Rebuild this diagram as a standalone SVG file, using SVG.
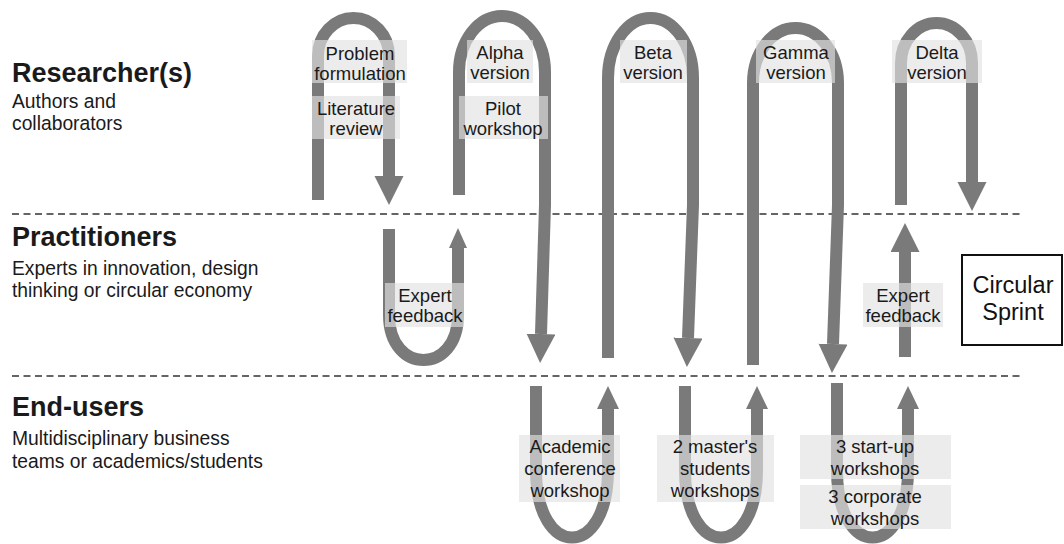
<svg xmlns="http://www.w3.org/2000/svg" width="1064" height="544" viewBox="0 0 1064 544">
<style>
.lane{stroke:#333;stroke-width:1.5;stroke-dasharray:7 4.5;fill:none}
.arr{fill:none;stroke:#7a7a7a;stroke-width:12}
.box{fill:#e2e2e2;opacity:.65}
.lbl{font-family:"Liberation Sans",Arial,sans-serif;font-size:18.5px;fill:#1a1a1a;text-anchor:middle}
.h{font-family:"Liberation Sans",Arial,sans-serif;font-size:27px;font-weight:bold;fill:#1a1a1a}
.sub{font-family:"Liberation Sans",Arial,sans-serif;font-size:19.3px;fill:#1a1a1a}
.cs{font-family:"Liberation Sans",Arial,sans-serif;font-size:23.5px;fill:#111;text-anchor:middle}
</style>
<defs>
<marker id="big" markerUnits="userSpaceOnUse" markerWidth="30" markerHeight="30" refX="0" refY="14.5" orient="auto" viewBox="0 0 30 30"><path d="M0,0 L29,14.5 L0,29 z" fill="#7a7a7a"/></marker>
<marker id="med" markerUnits="userSpaceOnUse" markerWidth="24" markerHeight="24" refX="0" refY="11" orient="auto" viewBox="0 0 24 24"><path d="M0,0 L23,11 L0,22 z" fill="#7a7a7a"/></marker>
<marker id="sml" markerUnits="userSpaceOnUse" markerWidth="22" markerHeight="22" refX="0" refY="9" orient="auto" viewBox="0 0 22 22"><path d="M0,0 L20,9 L0,18 z" fill="#7a7a7a"/></marker>
</defs>
<rect width="1064" height="544" fill="#fff"/>
<g id="lanes">
<line class="lane" x1="12" y1="214" x2="1020" y2="214"/>
<line class="lane" x1="12" y1="376" x2="1020" y2="376"/>
</g>
<g id="lane-labels">
<text class="h" x="12" y="82">Researcher(s)</text>
<text class="sub" x="12" y="108">Authors and</text>
<text class="sub" x="12" y="130">collaborators</text>
<text class="h" x="12" y="246">Practitioners</text>
<text class="sub" x="12" y="275">Experts in innovation, design</text>
<text class="sub" x="12" y="297">thinking or circular economy</text>
<text class="h" x="12" y="416">End-users</text>
<text class="sub" x="12" y="445">Multidisciplinary business</text>
<text class="sub" x="12" y="468">teams or academics/students</text>
</g>
<g id="connectors">
<path class="arr" d="M318,200 L318,56 A35.5,38 0 0 1 389,56 L389,176" marker-end="url(#big)"/>
<path class="arr" d="M459,195 L459,72 A43,56 0 0 1 545,72 L545,205 L541,334" marker-end="url(#big)"/>
<path class="arr" d="M608,358 L608,78 A42.5,60 0 0 1 693,78 L693,205 L688,338" marker-end="url(#big)"/>
<path class="arr" d="M753,365 L753,83 A42.5,55 0 0 1 838,83 L838,205 L833,344" marker-end="url(#big)"/>
<path class="arr" d="M901,205 L901,63 A35.5,40 0 0 1 972,63 L972,182" marker-end="url(#big)"/>
<path class="arr" d="M389,229 L389,315 C389,375 458,375 458,315 L458,248" marker-end="url(#sml)"/>
<path class="arr" d="M905,357 L905,252" marker-end="url(#big)"/>
<path class="arr" d="M536,386 L536,470 C536,560 608,560 608,470 L608,409" marker-end="url(#med)"/>
<path class="arr" d="M685,386 L685,470 C685,560 757,560 757,470 L757,409" marker-end="url(#med)"/>
<path class="arr" d="M837,383 L837,470 C837,560 908,560 908,470 L908,409" marker-end="url(#med)"/>
</g>
<g id="problem-formulation"><rect class="box" x="312" y="40" width="95" height="43"/><text class="lbl" x="360" y="60">Problem</text><text class="lbl" x="360" y="80">formulation</text></g>
<g id="literature-review"><rect class="box" x="312" y="96" width="88" height="43"/><text class="lbl" x="356" y="115">Literature</text><text class="lbl" x="356" y="135">review</text></g>
<g id="alpha-version"><rect class="box" x="467" y="40" width="66" height="43"/><text class="lbl" x="500" y="59">Alpha</text><text class="lbl" x="500" y="79">version</text></g>
<g id="pilot-workshop"><rect class="box" x="459" y="96" width="89" height="43"/><text class="lbl" x="503" y="115">Pilot</text><text class="lbl" x="503" y="135">workshop</text></g>
<g id="beta-version"><rect class="box" x="620" y="40" width="67" height="43"/><text class="lbl" x="653" y="59">Beta</text><text class="lbl" x="653" y="79">version</text></g>
<g id="gamma-version"><rect class="box" x="756" y="40" width="79" height="43"/><text class="lbl" x="796" y="59">Gamma</text><text class="lbl" x="796" y="79">version</text></g>
<g id="delta-version"><rect class="box" x="892" y="40" width="90" height="43"/><text class="lbl" x="937" y="59">Delta</text><text class="lbl" x="937" y="79">version</text></g>
<g id="expert-feedback-1"><rect class="box" x="385" y="283" width="79" height="44"/><text class="lbl" x="425" y="302">Expert</text><text class="lbl" x="425" y="322">feedback</text></g>
<g id="expert-feedback-2"><rect class="box" x="863" y="283" width="80" height="44"/><text class="lbl" x="903" y="302">Expert</text><text class="lbl" x="903" y="322">feedback</text></g>
<g id="academic-conference"><rect class="box" x="519" y="435" width="101" height="67"/><text class="lbl" x="570" y="453">Academic</text><text class="lbl" x="570" y="475">conference</text><text class="lbl" x="570" y="497">workshop</text></g>
<g id="masters-students"><rect class="box" x="657" y="435" width="117" height="67"/><text class="lbl" x="715" y="453">2 master's</text><text class="lbl" x="715" y="475">students</text><text class="lbl" x="715" y="497">workshops</text></g>
<g id="startup-workshops"><rect class="box" x="800" y="435" width="151" height="44"/><text class="lbl" x="875" y="453">3 start-up</text><text class="lbl" x="875" y="475">workshops</text></g>
<g id="corporate-workshops"><rect class="box" x="800" y="485" width="151" height="44"/><text class="lbl" x="875" y="503">3 corporate</text><text class="lbl" x="875" y="525">workshops</text></g>
<g id="circular-sprint"><rect x="962" y="255" width="100" height="90" fill="#fff" stroke="#111" stroke-width="2"/><text class="cs" x="1013" y="293">Circular</text><text class="cs" x="1013" y="320">Sprint</text></g>
</svg>
